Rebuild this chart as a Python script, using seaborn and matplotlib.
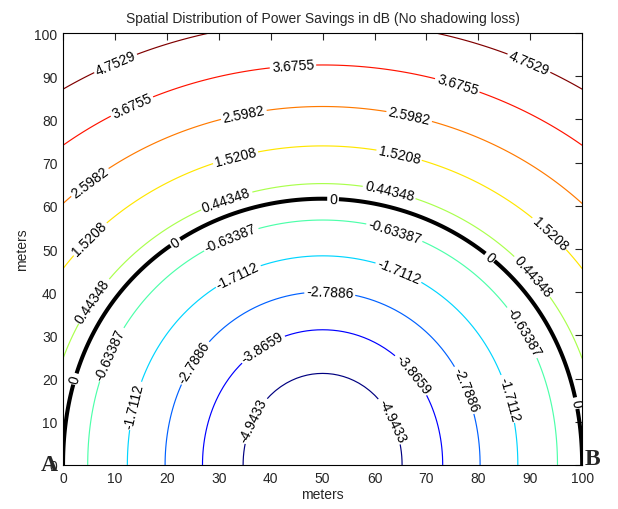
import numpy as np
import matplotlib
matplotlib.use("Agg")
import matplotlib.pyplot as plt
import seaborn as sns

# Two nodes at the ends of a 100 m line, path loss exponent 3
node_a = (0.0, 0.0)
node_b = (100.0, 0.0)
path_loss_exp = 3.0
ref_dist = 100.0

x_m = np.arange(0, 101, 1)
y_m = np.arange(0, 101, 1)

# contour levels as printed on the reference
levels = [-4.9433, -3.8659, -2.7886, -1.7112, -0.63387,
          0.44348, 1.5208, 2.5982, 3.6755, 4.7529]
zero_level = [0.0]

# where the labels sit on the reference (data coords)
label_pos = [
    (10, 93.3), (89.6, 92.6),
    (13.3, 82.9), (44.3, 92.1), (75.9, 87.7),
    (5.0, 65.7), (34.9, 80.6), (66.7, 80.8),
    (5.2, 52.3), (33.3, 70.8), (64.7, 71.5), (93.8, 53.7),
    (5.8, 38), (31.4, 61.6), (62.8, 63), (90.6, 43.8),
    (9.1, 25.7), (32.6, 51.6), (63.8, 53.7), (88.4, 30.6),
    (13.9, 13.7), (33.7, 43.8), (64.5, 44.2), (85.7, 15.3),
    (25.2, 23.8), (51.4, 40), (76.9, 17.1),
    (38.5, 26.9), (67.4, 21.1),
    (38.3, 9.5), (62.8, 10),
]
zero_pos = [(2.3, 19.9), (21.6, 51.6), (52, 61.1), (82.1, 47.9), (98, 14.1)]

X, Y = np.meshgrid(x_m, y_m)
d_a = np.hypot(X - node_a[0], Y - node_a[1])
d_b = np.hypot(X - node_b[0], Y - node_b[1])
savings = 10 * np.log10((d_a ** path_loss_exp + d_b ** path_loss_exp) / ref_dist ** path_loss_exp)

sns.set_style("white")
plt.rcParams['font.family'] = ['Liberation Sans', 'DejaVu Sans']

fig = plt.figure(figsize=(6.18, 5.10), dpi=100)
ax = fig.add_axes([0.102, 0.0863, 0.840, 0.847])

# colours spread over the level range, like MATLAB's jet contours
cs = ax.contour(X, Y, savings, levels=levels, cmap='jet', linewidths=0.85)
cz = ax.contour(X, Y, savings, levels=zero_level, colors='black', linewidths=2.9)

ax.clabel(cs, fmt='%.5g', fontsize=10, colors='black', inline=True,
          inline_spacing=2, manual=label_pos)
ax.clabel(cz, fmt='%g', fontsize=10, colors='black', inline=True,
          inline_spacing=2, manual=zero_pos)

ax.text(-2.6, 0.0, 'A', family='Liberation Serif', fontweight='bold',
        fontsize=17, ha='center', va='center', clip_on=False)
ax.text(102.0, 1.4, 'B', family='Liberation Serif', fontweight='bold',
        fontsize=17, ha='center', va='center', clip_on=False)

ax.set_xlim(0, 100)
ax.set_ylim(0, 100)
ax.set_xticks(np.arange(0, 101, 10))
ax.set_yticks(np.arange(0, 101, 10))
ax.tick_params(direction='in', length=5, width=0.8, top=True, right=True,
               labelsize=10, pad=4)
for s in ax.spines.values():
    s.set_linewidth(0.8)
    s.set_color('black')

ax.set_title('Spatial Distribution of Power Savings in dB (No shadowing loss)',
             fontsize=10, pad=8)
ax.set_xlabel('meters', fontsize=10, labelpad=2)
ax.set_ylabel('meters', fontsize=10, labelpad=4)

fig.savefig('out.png', dpi=100, facecolor='white')
